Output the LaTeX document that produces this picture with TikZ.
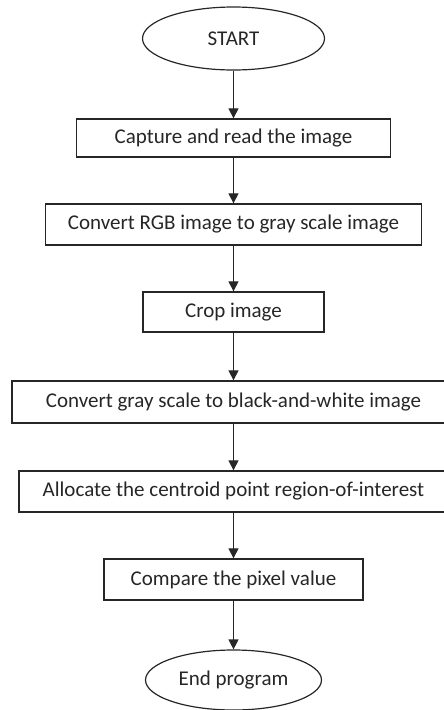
\documentclass[tikz,border=0pt]{standalone}
\usepackage{fontspec}
\setmainfont{Carlito}
\usetikzlibrary{shapes.geometric,arrows.meta}
\begin{document}
\begin{tikzpicture}[x=1pt,y=-1pt,
  every node/.style={font=\fontsize{21}{23}\selectfont, text=black!85},
  procbox/.style={draw=black!85, line width=1.3pt, rectangle, inner sep=0pt, align=center},
  termnode/.style={draw=black!85, line width=1.2pt, ellipse, inner sep=0pt, align=center},
  flow/.style={draw=black!85, line width=1.2pt, -{Triangle[length=10pt,width=10pt]}}]
\useasboundingbox (0,0) rectangle (444,710);
\clip (0,0) rectangle (444,710);
\node[termnode, minimum width=182pt, minimum height=63pt] (start) at (233.5,38.5) {START};
\node[procbox, minimum width=314pt, minimum height=38pt] (b1) at (233.5,138) {Capture and read the image};
\node[procbox, minimum width=376pt, minimum height=41pt] (b2) at (233.5,224.5) {Convert RGB image to gray scale image};
\node[procbox, minimum width=181pt, minimum height=40pt] (b3) at (233.5,312) {Crop image};
\node[procbox, minimum width=443pt, minimum height=42pt] (b4) at (233.5,402) {Convert gray scale to black-and-white image};
\node[procbox, minimum width=429pt, minimum height=41pt] (b5) at (233.5,491.5) {Allocate the centroid point region-of-interest};
\node[procbox, minimum width=259pt, minimum height=41pt] (b6) at (233.5,579.5) {Compare the pixel value};
\node[termnode, minimum width=176pt, minimum height=60pt] (end) at (233.5,680) {End program};
\draw[flow] (start) -- (b1);
\draw[flow] (b1) -- (b2);
\draw[flow] (b2) -- (b3);
\draw[flow] (b3) -- (b4);
\draw[flow] (b4) -- (b5);
\draw[flow] (b5) -- (b6);
\draw[flow] (b6) -- (end);
\end{tikzpicture}
\end{document}
